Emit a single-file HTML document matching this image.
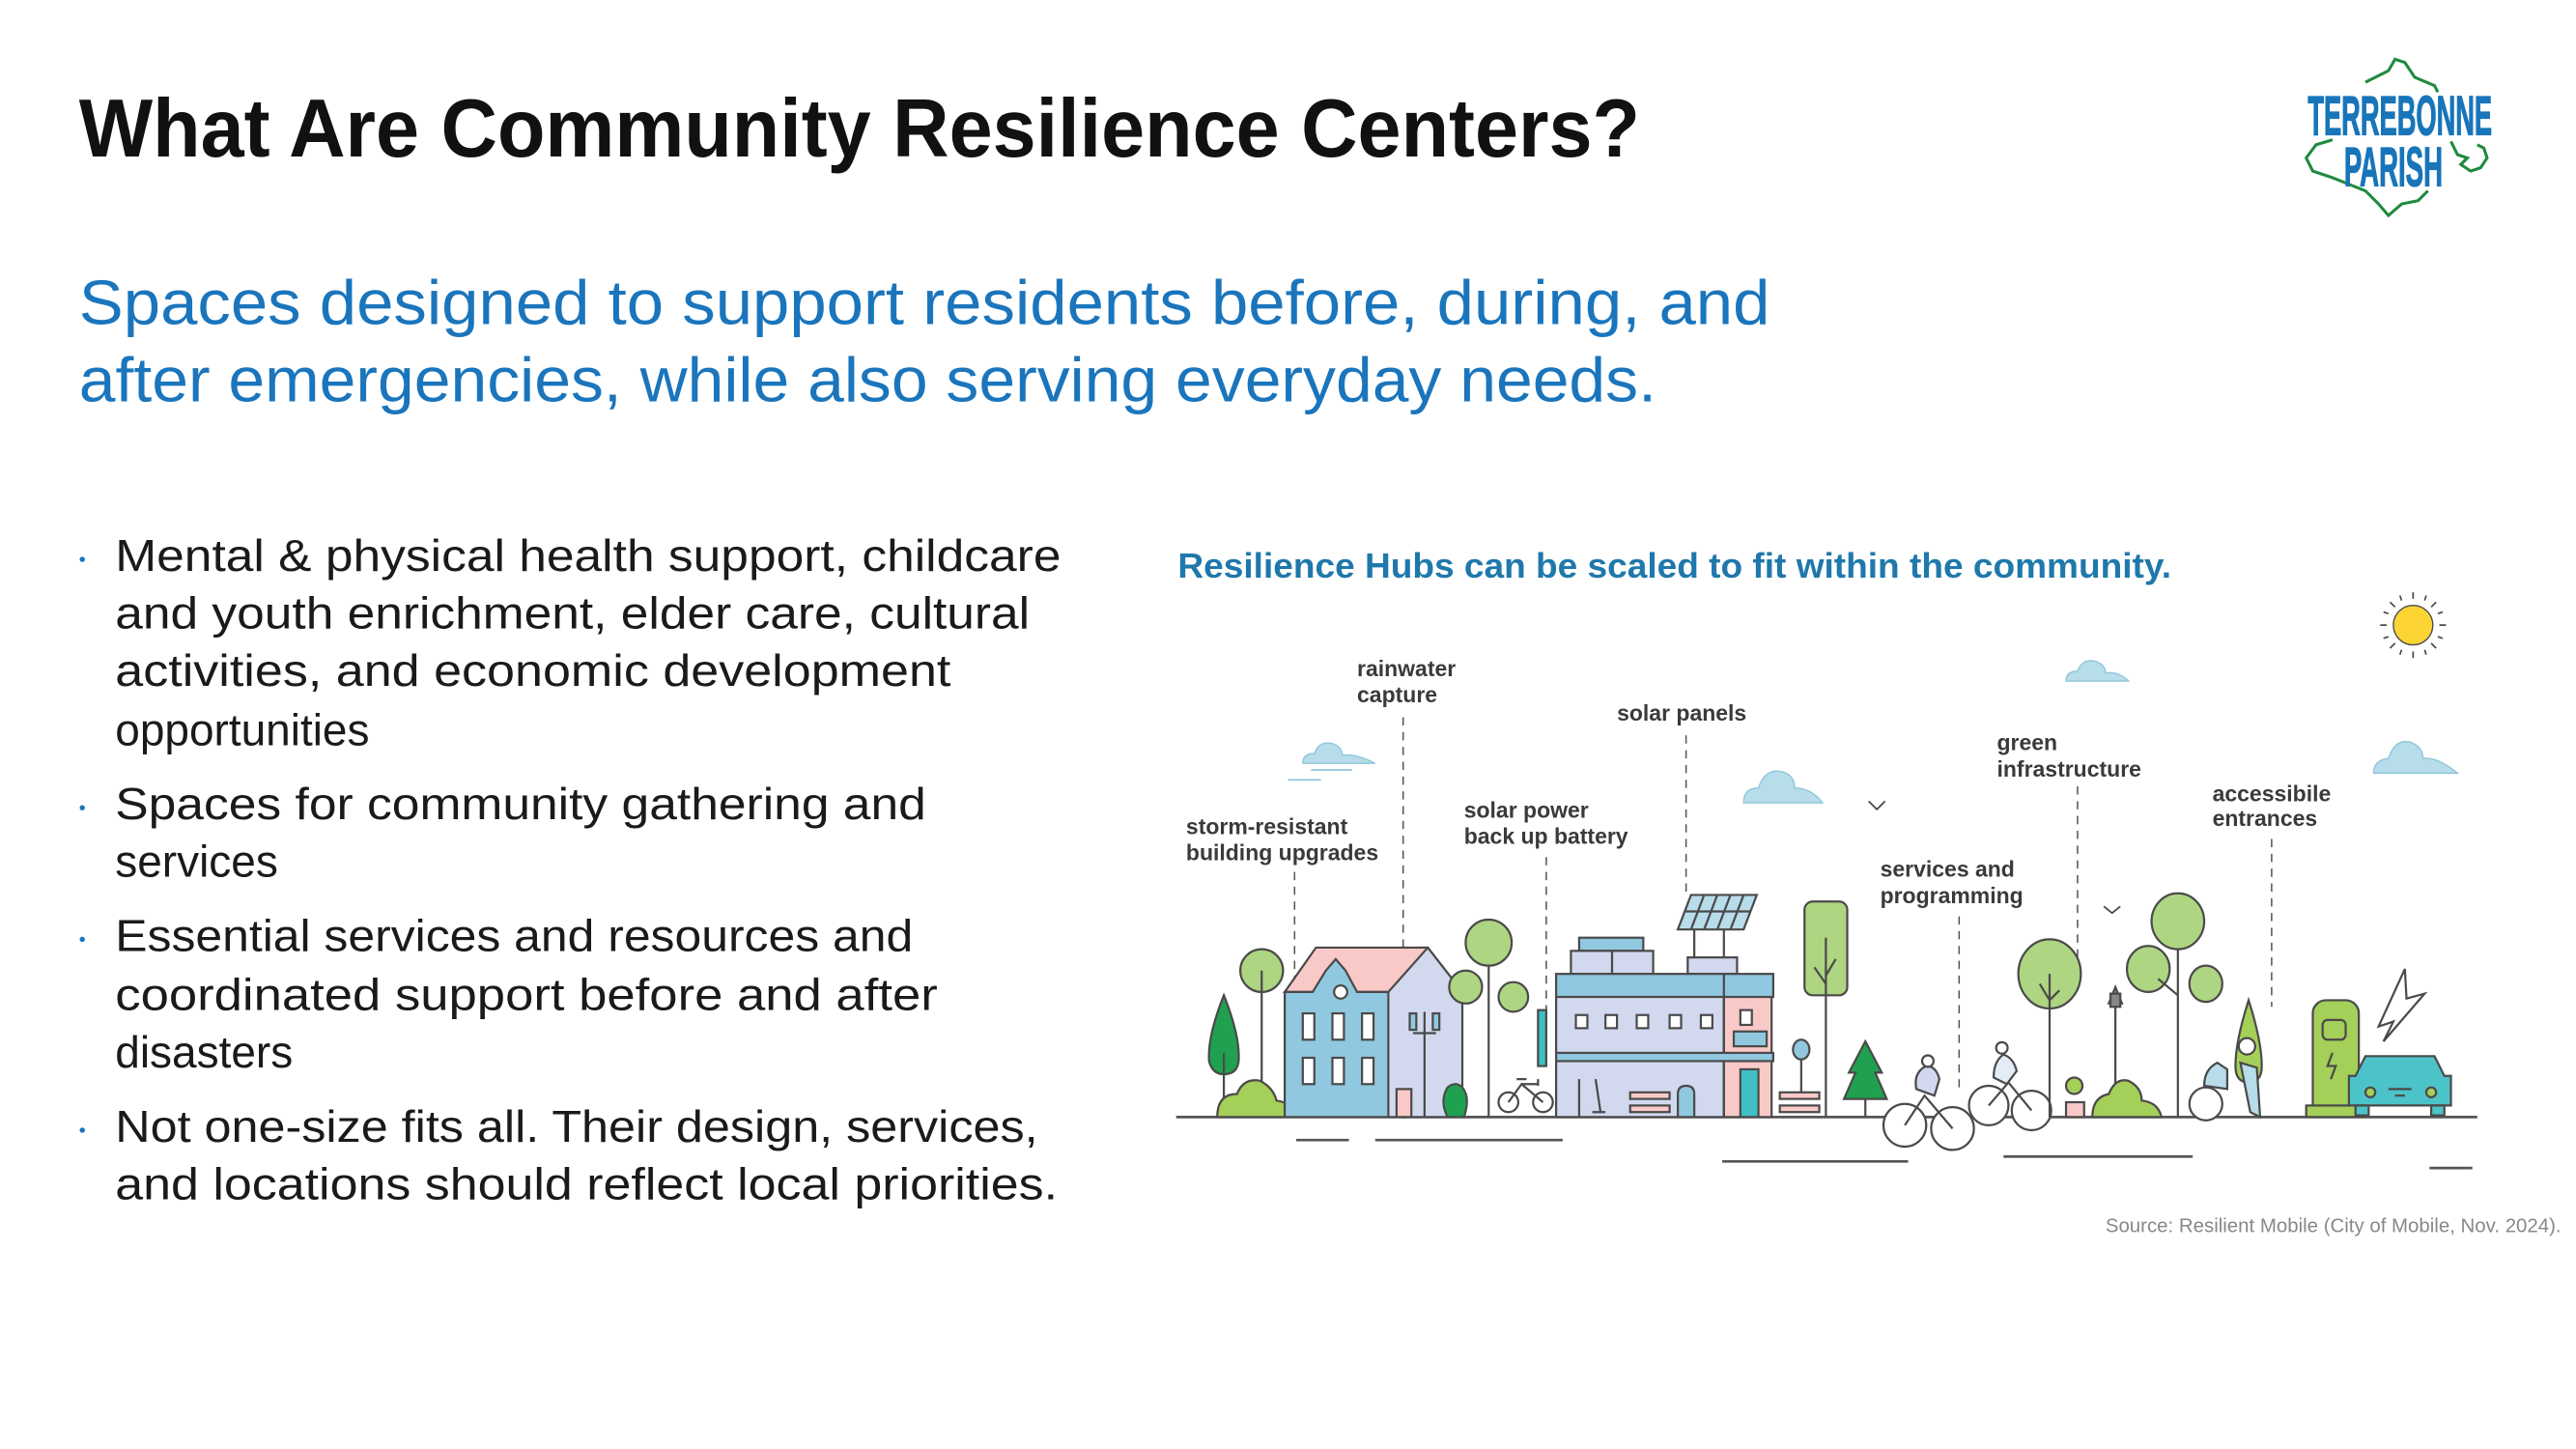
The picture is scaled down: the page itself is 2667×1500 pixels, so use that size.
<!DOCTYPE html>
<html><head><meta charset="utf-8"><style>
html,body{margin:0;padding:0;background:#fff;}
svg{display:block;}
.b{font-family:"Liberation Sans",sans-serif;font-size:27px;fill:#1a1a1a;}
.l{font-family:"Liberation Sans Narrow","Liberation Sans",sans-serif;font-weight:bold;font-size:13.5px;fill:#3a3a3a;}
.o{stroke:#4a4a4a;stroke-width:1.3;}
.d{stroke:#555;stroke-width:0.9;stroke-dasharray:5 4;fill:none;}
</style></head><body>
<svg width="2667" height="1500" viewBox="0 0 1566 880.8" xmlns="http://www.w3.org/2000/svg">
<rect width="1566" height="881" fill="#fff"/>
<!-- Title -->
<text x="48" y="95" font-family="Liberation Sans, sans-serif" font-weight="bold" font-size="50" fill="#111" textLength="949" lengthAdjust="spacingAndGlyphs">What Are Community Resilience Centers?</text>
<!-- Subtitle -->
<g font-family="Liberation Sans, sans-serif" font-size="38" fill="#1a75bc">
<text x="48" y="197" textLength="1028" lengthAdjust="spacingAndGlyphs">Spaces designed to support residents before, during, and</text>
<text x="48" y="244" textLength="959" lengthAdjust="spacingAndGlyphs">after emergencies, while also serving everyday needs.</text>
</g>
<!-- Logo -->
<path d="M1438 50 L1452 43 L1456 36 L1462 38 L1468 47 L1480 52 L1482 56 M1418 85 L1408 88 L1402 96 L1406 104 L1418 108 L1428 112 L1438 116 L1446 124 L1452 131 L1460 124 L1470 122 L1476 116 M1490 86 L1494 94 L1500 96 L1496 100 L1502 104 L1508 102 L1512 96 L1510 90 L1506 88" fill="none" stroke="#1e8a3e" stroke-width="1.8"/>
<g font-family="Liberation Sans Narrow, Liberation Sans, sans-serif" font-weight="bold" fill="#1875b9" stroke="#1875b9" stroke-width="0.8">
<text x="1403" y="82" font-size="34" textLength="112" lengthAdjust="spacingAndGlyphs">TERREBONNE</text>
<text x="1425" y="113" font-size="34" textLength="60" lengthAdjust="spacingAndGlyphs">PARISH</text>
</g>
<!-- Bullets -->
<g fill="#1a75bc"><circle cx="50" cy="340" r="1.6"/><circle cx="50" cy="491" r="1.6"/><circle cx="50" cy="571" r="1.6"/><circle cx="50" cy="687" r="1.6"/></g>
<g class="b">
<text x="70" y="347" textLength="575" lengthAdjust="spacingAndGlyphs">Mental &amp; physical health support, childcare</text>
<text x="70" y="382" textLength="556" lengthAdjust="spacingAndGlyphs">and youth enrichment, elder care, cultural</text>
<text x="70" y="417" textLength="508" lengthAdjust="spacingAndGlyphs">activities, and economic development</text>
<text x="70" y="453">opportunities</text>
<text x="70" y="498" textLength="493" lengthAdjust="spacingAndGlyphs">Spaces for community gathering and</text>
<text x="70" y="533">services</text>
<text x="70" y="578" textLength="485" lengthAdjust="spacingAndGlyphs">Essential services and resources and</text>
<text x="70" y="614" textLength="500" lengthAdjust="spacingAndGlyphs">coordinated support before and after</text>
<text x="70" y="649">disasters</text>
<text x="70" y="694" textLength="561" lengthAdjust="spacingAndGlyphs">Not one-size fits all. Their design, services,</text>
<text x="70" y="729" textLength="573" lengthAdjust="spacingAndGlyphs">and locations should reflect local priorities.</text>
</g>
<!-- Diagram heading -->
<text x="716" y="351" font-family="Liberation Sans Narrow, Liberation Sans, sans-serif" font-weight="bold" font-size="21" fill="#1f78ab" textLength="604" lengthAdjust="spacingAndGlyphs">Resilience Hubs can be scaled to fit within the community.</text>
<!-- Labels -->
<g class="l">
<text x="825" y="411">rainwater</text><text x="825" y="427">capture</text>
<text x="983" y="438">solar panels</text>
<text x="721" y="507">storm-resistant</text><text x="721" y="523">building upgrades</text>
<text x="890" y="497">solar power</text><text x="890" y="513">back up battery</text>
<text x="1214" y="456">green</text><text x="1214" y="472">infrastructure</text>
<text x="1143" y="533">services and</text><text x="1143" y="549">programming</text>
<text x="1345" y="487">accessibile</text><text x="1345" y="502">entrances</text>
</g>
<!-- dashed leaders -->
<path class="d" d="M787 530V603 M853 436V680 M940 521V640 M1025 447V546 M1191 557V662 M1263 478V583 M1381 510V612"/>
<!-- sun -->
<circle cx="1467" cy="380" r="12" fill="#fcd535" stroke="#4a4a4a" stroke-width="0.8"/>
<g stroke="#4a4a4a" stroke-width="1">
<path d="M1467 360v4M1467 396v4M1447 380h4M1483 380h4M1453 366l3 3M1478 391l3 3M1481 366l-3 3M1453 394l3-3M1459 362l1 3M1475 362l-1 3M1459 398l1-3M1475 398l-1-3M1449 372l3 1M1485 372l-3 1M1449 388l3-1M1485 388l-3-1"/>
</g>
<!-- clouds -->
<g fill="#b7dcea" stroke="#8fc6dc" stroke-width="0.8">
<path d="M1256 414 q0-6 7-6 q3-8 11-6 q6 2 6 7 q8 -1 14 5 z"/>
<path d="M792 464 q0-6 7-6 q3-8 11-6 q6 2 6 7 q8-1 20 5 z"/>
<path d="M1060 488 q0-9 9-9 q4-12 14-10 q8 2 8 10 q10 0 17 9 z"/>
<path d="M1443 470 q0-8 9-9 q4-12 13-10 q8 3 8 10 q9-1 21 9 z"/>
</g>
<path d="M797 468h25M783 474h20" stroke="#8fc6dc" stroke-width="1"/>
<path d="M1136 487l5 5 5-5M1279 551l5 4 5-4" fill="none" stroke="#444" stroke-width="1"/>
<!-- ground & road -->
<path d="M715 679H1506" stroke="#555" stroke-width="1.6"/>
<path d="M788 693H820M836 693H950M1047 706H1160M1218 703H1333M1477 710H1503" stroke="#555" stroke-width="1.6"/>
<!-- left trees -->
<path d="M744 605 q-10 25 -9 40 q2 8 9 8 q8 0 9-8 q1-15-9-40z" fill="#1fa14f" class="o"/>
<path d="M744 640V679" class="o"/>
<circle cx="767" cy="590" r="13" fill="#aed581" class="o"/><path d="M767 590V679" class="o"/>
<path d="M740 679 q0-14 12-14 q4-10 14-8 q8 4 10 12 q12 2 12 10z" fill="#a4cf58" class="o"/>
<!-- house -->
<path d="M781 603 L800 576 L868 576 L889 603Z" fill="#f9c9c8" class="o"/>
<path d="M844 603 L868 576 L889 603 V679 H844Z" fill="#d2d9ef" class="o"/>
<path d="M781 603 L798 603 L806 590 L812 583 L818 590 L825 603 L844 603 V679 H781Z" fill="#90c8e0" class="o"/>
<circle cx="815" cy="603" r="4" fill="#fff" class="o"/>
<g fill="#fff" class="o">
<rect x="792" y="616" width="7" height="16"/><rect x="810" y="616" width="7" height="16"/><rect x="828" y="616" width="7" height="16"/>
<rect x="792" y="643" width="7" height="16"/><rect x="810" y="643" width="7" height="16"/><rect x="828" y="643" width="7" height="16"/>
</g>
<path d="M866 615V679M859 628H873" class="o"/><rect x="857" y="616" width="4" height="10" fill="#90c8e0" class="o"/><rect x="871" y="616" width="4" height="10" fill="#90c8e0" class="o"/>
<rect x="849" y="662" width="9" height="17" fill="#f9c9c8" class="o"/>
<path d="M880 679 q-5-10 0-18 q5-4 9 0 q5 6 1 18z" fill="#1fa14f" class="o"/>
<!-- mid trees -->
<circle cx="905" cy="573" r="14" fill="#aed581" class="o"/><path d="M905 587V679" class="o"/>
<circle cx="891" cy="600" r="10" fill="#aed581" class="o"/>
<circle cx="920" cy="606" r="9" fill="#aed581" class="o"/>
<!-- bike -->
<g fill="none" class="o"><circle cx="917" cy="670" r="6"/><circle cx="938" cy="670" r="6"/><path d="M917 670l8-11 13 11M925 659h10M922 656h6M935 656v4"/></g>
<!-- big building -->
<rect x="960" y="570" width="39" height="8" fill="#90c8e0" class="o"/>
<rect x="955" y="578" width="50" height="14" fill="#d2d9ef" class="o"/><path d="M980 578V592" class="o"/>
<path d="M1030 582V563M1048 582V563" class="o"/>
<path d="M1028 544H1068L1060 565H1020Z" fill="#b7dcea" class="o"/>
<path d="M1036 544L1028 565M1044 544L1036 565M1052 544L1044 565M1060 544L1052 565M1024 554H1064" class="o" stroke-width="0.8"/>
<rect x="1026" y="582" width="30" height="10" fill="#d2d9ef" class="o"/>
<rect x="946" y="605" width="102" height="74" fill="#d2d9ef" class="o"/>
<rect x="1048" y="605" width="29" height="74" fill="#f9c9c8" class="o"/>
<rect x="946" y="592" width="132" height="14" fill="#90c8e0" class="o"/>
<path d="M1048 592V679" class="o"/>
<g fill="#fff" class="o"><rect x="958" y="617" width="7" height="8"/><rect x="976" y="617" width="7" height="8"/><rect x="995" y="617" width="7" height="8"/><rect x="1015" y="617" width="7" height="8"/><rect x="1034" y="617" width="7" height="8"/><rect x="1058" y="614" width="7" height="9"/></g>
<rect x="1054" y="627" width="20" height="9" fill="#90c8e0" class="o"/>
<rect x="946" y="640" width="132" height="5" fill="#90c8e0" class="o"/>
<rect x="1058" y="650" width="11" height="29" fill="#3fc0c4" class="o"/>
<rect x="935" y="614" width="5" height="34" fill="#3fc0c4" class="o"/>
<path d="M960 679V656M970 656l3 20M968 676h8" class="o" fill="none"/>
<rect x="991" y="664" width="24" height="4" fill="#f9c9c8" class="o"/><rect x="991" y="672" width="24" height="4" fill="#f9c9c8" class="o"/>
<path d="M1020 679V665q0-5 5-5q5 0 5 5V679z" fill="#90c8e0" class="o"/>
<!-- tall tree + sign + bench -->
<rect x="1097" y="548" width="26" height="57" rx="5" fill="#aed581" class="o"/><path d="M1110 570V679M1103 588l7 10M1116 583l-6 10" class="o" fill="none"/>
<rect x="1082" y="664" width="24" height="4" fill="#f9c9c8" class="o"/><rect x="1082" y="672" width="24" height="4" fill="#f9c9c8" class="o"/>
<ellipse cx="1095" cy="638" rx="5" ry="6" fill="#90c8e0" class="o"/><path d="M1095 644V664" class="o"/>
<path d="M1134 633 L1124 652 L1128 652 L1121 668 L1147 668 L1140 652 L1144 652Z" fill="#1fa14f" class="o"/><path d="M1134 668V679" class="o"/>
<!-- cyclists -->
<g fill="#fff" class="o">
<circle cx="1158" cy="684" r="13"/><circle cx="1187" cy="686" r="13"/>
<circle cx="1209" cy="672" r="12"/><circle cx="1235" cy="675" r="12"/>
</g>
<path d="M1158 684l12-18 17 20M1209 672l12-14 14 17" fill="none" class="o"/>
<path d="M1165 662q-2-10 6-14q6 0 8 8l-3 10z" fill="#d2d9ef" class="o"/><circle cx="1172" cy="645" r="3.5" fill="#fff" class="o"/>
<path d="M1212 655q0-10 6-14q6 2 8 10l-6 8z" fill="#e4ecf7" class="o"/><circle cx="1217" cy="637" r="3.5" fill="#fff" class="o"/>
<!-- right trees & lamp -->
<ellipse cx="1246" cy="592" rx="19" ry="21" fill="#aed581" class="o"/><path d="M1246 592V679M1240 598l6 10M1252 602l-6 6" class="o" fill="none"/>
<path d="M1286 679V610M1282 610h8l-4-10z" fill="#999" class="o"/><rect x="1283" y="604" width="6" height="8" fill="#888" class="o"/>
<ellipse cx="1324" cy="560" rx="16" ry="17" fill="#aed581" class="o"/><path d="M1324 577V679" class="o"/>
<ellipse cx="1306" cy="589" rx="13" ry="14" fill="#aed581" class="o"/><path d="M1312 595l12 10" class="o"/>
<ellipse cx="1341" cy="598" rx="10" ry="11" fill="#aed581" class="o"/>
<path d="M1272 679q0-12 10-14q4-10 12-8q8 4 8 12q10 1 12 10z" fill="#a4cf58" class="o"/>
<circle cx="1261" cy="660" r="5" fill="#a4cf58" class="o"/><rect x="1256" y="670" width="11" height="9" fill="#f9c9c8" class="o"/>
<path d="M1367 608q-8 25-8 40q0 10 8 10q8 0 8-10q0-15-8-40z" fill="#a4cf58" class="o"/>
<!-- people -->
<circle cx="1341" cy="671" r="10" fill="#fff" class="o"/>
<path d="M1340 660q0-10 8-14l6 4v12z" fill="#b7dcea" class="o"/>
<path d="M1362 646l6 30 6 3 -2-30z" fill="#b7dcea" class="o"/><circle cx="1366" cy="636" r="5" fill="#fff" class="o"/>
<!-- charger & car -->
<rect x="1406" y="608" width="28" height="71" rx="8" fill="#a4cf58" class="o"/><rect x="1412" y="620" width="14" height="12" rx="3" fill="#a4cf58" class="o"/>
<rect x="1402" y="672" width="36" height="7" fill="#a4cf58" class="o"/>
<path d="M1418 640l-3 8h5l-3 8" fill="none" class="o"/>
<path d="M1462 589 L1446 624 L1455 621 L1449 633 L1474 604 L1463 607 Z" fill="#fff" class="o"/>
<path d="M1432 654 L1438 642 H1480 L1486 654 H1490 V672 H1428 V654Z" fill="#4cc3c9" class="o"/>
<circle cx="1441" cy="664" r="3" fill="#a4cf58" class="o"/><circle cx="1478" cy="664" r="3" fill="#a4cf58" class="o"/>
<path d="M1452 662h14M1456 666h6" class="o"/>
<rect x="1432" y="672" width="8" height="6" fill="#4cc3c9" class="o"/><rect x="1478" y="672" width="8" height="6" fill="#4cc3c9" class="o"/>
<!-- source -->
<text x="1557" y="749" text-anchor="end" font-family="Liberation Sans, sans-serif" font-size="12" fill="#888">Source: Resilient Mobile (City of Mobile, Nov. 2024).</text>
</svg>
</body></html>
